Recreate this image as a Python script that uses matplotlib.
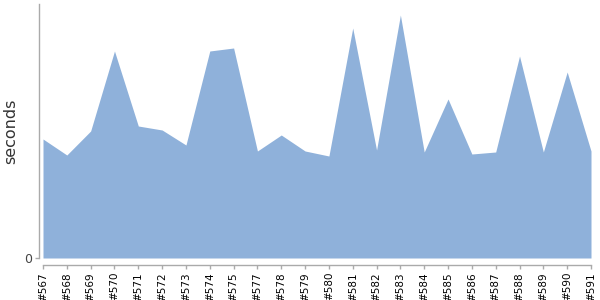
import matplotlib
matplotlib.use("Agg")
import matplotlib.pyplot as plt

builds = ["#567", "#568", "#569", "#570", "#571", "#572", "#573", "#574", "#575",
          "#577", "#578", "#579", "#580", "#581", "#582", "#583", "#584", "#585",
          "#586", "#587", "#588", "#589", "#590", "#591"]
seconds = [11.9, 10.3, 12.7, 20.7, 13.2, 12.8, 11.3, 20.7, 21.0,
           10.7, 12.3, 10.7, 10.2, 23.0, 10.8, 24.3, 10.6, 15.9,
           10.4, 10.6, 20.2, 10.6, 18.6, 10.7]

fig = plt.figure(figsize=(6, 3), dpi=100)
ax = fig.add_axes([43/600, 1-258/300, (591-43)/600, (258-4)/300])
for s in ["top", "right"]:
    ax.spines[s].set_visible(False)
ax.spines["bottom"].set_position(("outward", 5))
ax.spines["left"].set_position(("outward", 3))
for s in ["bottom", "left"]:
    ax.spines[s].set_color("#aaaaaa")
    ax.spines[s].set_linewidth(1)

x = list(range(len(builds)))
ax.fill_between(x, 0, seconds, color="#8fb1da", linewidth=0)
ax.set_xlim(0, len(builds)-1)
ax.set_ylim(0, 25.4)
ax.set_xticks(x)
ax.set_xticklabels(builds, rotation=90, fontsize=7.5, color="#000000")
ax.set_yticks([0])
ax.set_yticklabels(["0"], fontsize=9, color="#444444")
ax.tick_params(axis="both", length=3, width=1, color="#aaaaaa", pad=2)
ax.set_ylabel("seconds", fontsize=11.5, color="#333333")
ax.yaxis.set_label_coords(-0.045, 0.5)
fig.savefig("out.png", dpi=100)
